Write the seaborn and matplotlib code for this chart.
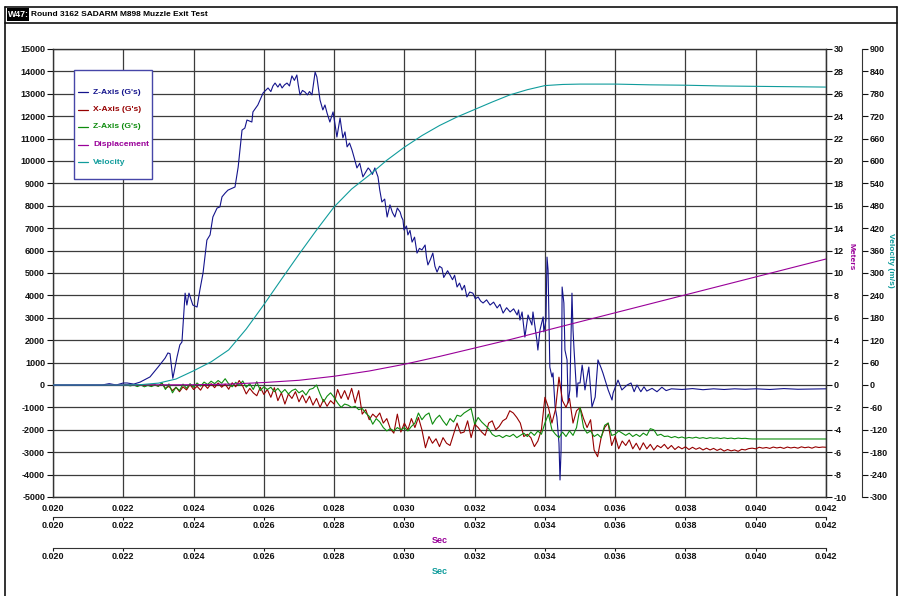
import matplotlib
matplotlib.use("Agg")
import matplotlib.pyplot as plt
from matplotlib.lines import Line2D
from matplotlib.patches import Rectangle
from matplotlib.ticker import FormatStrFormatter, MultipleLocator
import seaborn as sns

# ---------------- recorded channels ----------------
# Z-axis accelerometer (G's), irregular sample times (s)
z_time = [0.0200, 0.0214, 0.0216, 0.0218, 0.0220, 0.02211, 0.0223, 0.02248, 0.02276, 0.02299,
          0.02319, 0.02327, 0.02333, 0.02341, 0.02344, 0.02353, 0.02361, 0.02367, 0.02376, 0.02381,
          0.02387, 0.02398, 0.02410, 0.02418, 0.02427, 0.02438, 0.02447, 0.02455, 0.02467, 0.02475,
          0.02481, 0.02490, 0.02498, 0.02518, 0.02527, 0.02538, 0.02546, 0.02552, 0.02566, 0.02569,
          0.02583, 0.02598, 0.02605, 0.02612, 0.02620, 0.02626, 0.02632, 0.02640, 0.02646, 0.02652,
          0.02659, 0.02666, 0.02673, 0.02680, 0.02687, 0.02694, 0.02698, 0.02703, 0.02710, 0.02717,
          0.02724, 0.02730, 0.02737, 0.02742, 0.02746, 0.02751, 0.02760, 0.02768, 0.02774, 0.02780,
          0.02788, 0.02797, 0.02803, 0.02808, 0.02817, 0.02825, 0.02831, 0.02837, 0.02844, 0.02851,
          0.02858, 0.02865, 0.02873, 0.02882, 0.02890, 0.02897, 0.02902, 0.02909, 0.02916, 0.02925,
          0.02930, 0.02936, 0.02944, 0.02951, 0.02959, 0.02966, 0.02973, 0.02980, 0.02988, 0.02992,
          0.02996, 0.02999, 0.03006, 0.03010, 0.03016, 0.03022, 0.03029, 0.03036, 0.03043, 0.03050,
          0.03059, 0.03063, 0.03067, 0.03074, 0.03081, 0.03087, 0.03093, 0.03100, 0.03107, 0.03112,
          0.03116, 0.03123, 0.03130, 0.03137, 0.03143, 0.03150, 0.03157, 0.03164, 0.03171, 0.03178,
          0.03186, 0.03195, 0.03202, 0.03210, 0.03217, 0.03224, 0.03234, 0.03244, 0.03254, 0.03264,
          0.03272, 0.03281, 0.03291, 0.03301, 0.03311, 0.03321, 0.03325, 0.03329, 0.03335, 0.03343,
          0.03352, 0.03363, 0.03366, 0.03377, 0.03380, 0.03386, 0.03395, 0.03397, 0.03403, 0.03406,
          0.03409, 0.03414, 0.03420, 0.03423, 0.03429, 0.03434, 0.03440, 0.03443, 0.03446, 0.03449,
          0.03454, 0.03457, 0.03463, 0.03466, 0.03471, 0.03477, 0.03480, 0.03483, 0.03491, 0.03494,
          0.03500, 0.03506, 0.03508, 0.03514, 0.03520, 0.03525, 0.03534, 0.03543, 0.03551, 0.03560,
          0.03565, 0.03580, 0.03591, 0.03594, 0.03605, 0.03608, 0.03619, 0.03634, 0.03645, 0.03654,
          0.03662, 0.03673, 0.03682, 0.03690, 0.03705, 0.03719, 0.03733, 0.03745, 0.03760, 0.03790,
          0.03820, 0.03850, 0.03880, 0.03910, 0.03940, 0.03970, 0.04000, 0.04040, 0.04080, 0.04120,
          0.04200]
z_gs = [0, 0, 60, 0, 90, 90, 40, 130, 360, 800,
        1200, 1430, 1400, 300, 530, 1250, 1790, 1920, 4100, 3570,
        4100, 3570, 3480, 4240, 5000, 6470, 6700, 7500, 7900, 7950,
        8400, 8570, 8700, 8840, 9730, 11380, 11470, 11830, 11740, 12190,
        12500, 13040, 13150, 13260, 13100, 13350, 13480, 13300, 13450, 13260,
        13400, 13480, 13350, 13800, 13600, 13840, 13400, 12950, 13150, 13080,
        12950, 13100, 12950, 13500, 13970, 13750, 12720, 12280, 12500, 12140,
        11740, 12190, 11600, 11070, 11920, 11030, 11300, 10630, 10800, 10490,
        10100, 9690, 9900, 9290, 9500, 9690, 9600, 9400, 9690, 9290,
        8700, 8170, 8300, 7500, 8040, 7700, 7500, 7900, 7720, 7500,
        7370, 6920, 7100, 6700, 6900, 6380, 6600, 5890, 6100, 6030,
        6250, 5700, 5360, 5600, 5890, 5300, 5040, 5300, 5220, 4800,
        4910, 5100, 4910, 4700, 4900, 4375, 4550, 4240, 4450, 3930,
        4150, 4100, 3850, 3930, 3750, 3660, 3800, 3570, 3700, 3440,
        3600, 3210, 3450, 3260, 3400, 3125, 3350, 2900, 3260, 2140,
        3125, 2680, 3260, 2010, 1560, 2460, 3040, 2370, 2900, 5710,
        5130, 800, 360, 540, -980, -1430, -2590, -4240, -2900, 4375,
        3660, 1560, 1120, -800, -220, 4100, 2460, 1560, -540, 90,
        90, 890, 670, -220, 360, 800, -980, -540, 1120, 760,
        540, -220, -670, -360, 90, 220, -220, 0, 90, -300,
        0, -300, -80, -270, -150, -300, -100, -250, -170, -200,
        -160, -210, -170, -200, -170, -190, -170, -200, -160, -190,
        -170]

# X-axis and second Z-axis channels: fixed-rate record starting at 0.0220 s
chan_start = 0.0220
chan_step = 0.0001
x_gs = [0, 0, 0, 0, 0, 0, 0, 0, 0, 0,
        -50, 80, -150, -60, -250, -100, -300, -80, -220, 20,
        -200, -60, -230, 30, -150, 60, -120, 90, -100, 40,
        -190, 100, -80, 200, -50, -400, -150, -350, -480, -100,
        -420, -200, -550, -120, -700, -350, -850, -400, -600, -300,
        -750, -450, -800, -500, -900, -600, -1000, -650, -950, -700,
        -850, -200, -600, -250, -650, -150, -800, -250, -1300, -1100,
        -1550, -1300, -1450, -1250, -1700, -1500, -1950, -2150, -1300, -2100,
        -1700, -2000, -1500, -1900, -1450, -2000, -2800, -2300, -2600, -2400,
        -2750, -2350, -2600, -2700, -2200, -1700, -2150, -2100, -1600, -2350,
        -1750, -1900, -2100, -2250, -1700, -1600, -2000, -1850, -1600, -1500,
        -1150, -1250, -1450, -1700, -2300, -2200, -2350, -2750, -2500, -2000,
        -550, -1000, -1700, -1100, 350, -700, -1000, -600, -1700, -1150,
        -1000, -1500, -1900, -1550, -2900, -3200, -2350, -1900, -1700, -2700,
        -2300, -2850, -2500, -2700, -2450, -2850, -2600, -2900, -2580, -2850,
        -2650, -2900, -2700, -2800, -2650, -2850, -2700, -2880, -2750, -2850,
        -2760, -2880, -2780, -2870, -2800, -2900, -2820, -2900, -2830, -2920,
        -2850, -2950, -2880, -2940, -2900, -2960, -2870, -2900, -2840, -2820,
        -2850, -2780, -2820, -2790, -2830, -2770, -2810, -2780, -2830, -2770,
        -2810, -2780, -2820, -2760, -2800, -2770, -2820, -2760, -2790, -2770, -2780]
z2_gs = [0, 0, -40, 0, -70, 0, -80, -20, -70, 0,
         -60, 100, -200, 50, -350, -100, -250, 40, -150, 60,
         -100, 90, -50, 130, 20, 170, 60, 200, 80, 280,
         50, -80, 120, -20, 180, -100, 60, -200, 150, -250,
         -80, -200, -100, -300, -150, -350, -200, -400, -250, -180,
         -350, -250, -450, -200, -150, 0, -400, -750, -500, -350,
         -550, -800, -1000, -850, -900, -1000, -950, -1100, -1050, -1250,
         -1400, -1750, -1500, -1650, -1900, -2050, -1950, -2050, -1900, -2000,
         -1900, -2050, -1850, -1700, -1250, -1550, -1350, -1250, -1750, -1500,
         -1350, -1600, -1800, -1500, -1650, -1350, -1400, -1250, -1150, -1050,
         -1750, -1450, -1650, -1800, -1950, -2200, -2300, -2250, -2350, -2250,
         -2300, -2200, -2350, -2250, -2150, -2300, -2100, -2250, -2050, -2200,
         -1700, -1300, -2000, -2200, -2350, -2100, -2300, -2050, -2250, -1900,
         -1000, -1900, -2150, -2050, -2300, -2200, -2350, -1800, -1700, -2250,
         -2200, -2050, -2150, -2250, -2150, -2300, -2200, -2300, -2150, -2250,
         -1950, -2000, -2250, -2200, -2300, -2280, -2350, -2300, -2360, -2320,
         -2380, -2340, -2370, -2330, -2380, -2350, -2390, -2350, -2380, -2360,
         -2390, -2360, -2390, -2370, -2400, -2370, -2390, -2380, -2400, -2410,
         -2410, -2410, -2410, -2410, -2410, -2410, -2410, -2410, -2410, -2410,
         -2410, -2410, -2410, -2410, -2410, -2410, -2410, -2410, -2410, -2410, -2410]

# projectile displacement (m)
disp_time = [0.0200, 0.0240, 0.0250, 0.0260, 0.0270, 0.0280, 0.0290, 0.0300, 0.0310, 0.0320,
             0.0330, 0.0340, 0.0350, 0.0360, 0.0370, 0.0380, 0.0390, 0.0400, 0.0410, 0.0420]
disp_m = [0, 0.02, 0.08, 0.22, 0.42, 0.78, 1.25, 1.85, 2.55, 3.30,
          4.05, 4.85, 5.65, 6.45, 7.25, 8.05, 8.85, 9.65, 10.45, 11.25]

# projectile velocity (m/s)
vel_time = [0.0200, 0.0220, 0.0225, 0.0230, 0.0235, 0.0240, 0.0245, 0.0250, 0.0255, 0.0260,
            0.0265, 0.0270, 0.0275, 0.0280, 0.0285, 0.0290, 0.0295, 0.0300, 0.0305, 0.0310,
            0.0315, 0.0320, 0.0325, 0.0330, 0.0335, 0.0340, 0.0345, 0.0350, 0.0360, 0.0370,
            0.0380, 0.0390, 0.0400, 0.0410, 0.0420]
vel_ms = [0, 0, 1, 5, 16, 38, 62, 94, 150, 215,
          283, 350, 415, 477, 525, 562, 602, 637, 668, 695,
          718, 738, 758, 777, 791, 802, 805, 806, 806, 804,
          803, 801, 800, 799, 798]

legend_labels = ["Z-Axis (G's)", "X-Axis (G's)", "Z-Axis (G's)", "Displacement", "Velocity"]
sec_ticks = [0.020, 0.022, 0.024, 0.026, 0.028, 0.030, 0.032, 0.034, 0.036, 0.038, 0.040, 0.042]

# ---------------- styling ----------------
NAVY = "#14148c"
DRED = "#960000"
GREEN = "#0e8c0e"
PURPLE = "#990099"
TEAL = "#109c9c"
GRID = "#3c3c3c"

sns.set_style("white")
plt.rcParams["font.family"] = ["Liberation Sans", "DejaVu Sans"]
plt.rcParams["font.weight"] = "bold"
plt.rcParams["axes.unicode_minus"] = False

W, H = 905, 596
fig = plt.figure(figsize=(W / 100, H / 100), dpi=100)


def fx(px):
    return px / W


def fy(py):
    return 1 - py / H


L, R, T, B = 53, 826, 49, 497
ax = fig.add_axes([fx(L), fy(B), (R - L) / W, (B - T) / H])
ax_m = ax.twinx()
ax_v = ax.twinx()

chan_time = [chan_start + i * chan_step for i in range(len(x_gs))]

line_kw = dict(estimator=None, sort=False, legend=False, linewidth=0.8)
sns.lineplot(x=z_time, y=z_gs, ax=ax, color=NAVY, **line_kw)
sns.lineplot(x=chan_time, y=x_gs, ax=ax, color=DRED, **line_kw)
sns.lineplot(x=chan_time, y=z2_gs, ax=ax, color=GREEN, **line_kw)
sns.lineplot(x=disp_time, y=disp_m, ax=ax_m, color=PURPLE, **line_kw)
sns.lineplot(x=vel_time, y=vel_ms, ax=ax_v, color=TEAL, **line_kw)

ax.set_xlim(0.020, 0.042)
ax.set_ylim(-5000, 15000)
ax_m.set_ylim(-10, 30)
ax_v.set_ylim(-300, 900)

ax.xaxis.set_major_locator(MultipleLocator(0.002))
ax.yaxis.set_major_locator(MultipleLocator(1000))
ax_m.yaxis.set_major_locator(MultipleLocator(2))
ax_v.yaxis.set_major_locator(MultipleLocator(60))
ax.xaxis.set_major_formatter(FormatStrFormatter("%.3f"))
ax.yaxis.set_major_formatter(FormatStrFormatter("%d"))
ax_m.yaxis.set_major_formatter(FormatStrFormatter("%d"))
ax_v.yaxis.set_major_formatter(FormatStrFormatter("%d"))

ax.set_axisbelow(True)
ax.grid(True, color=GRID, linewidth=0.9)
ax.set_xlabel("")
ax.set_ylabel("")

for s in ax.spines.values():
    s.set_color("#333333")
    s.set_linewidth(1.0)
for name in ("top", "bottom", "left"):
    ax_m.spines[name].set_visible(False)
    ax_v.spines[name].set_visible(False)
ax_m.spines["right"].set_color("#333333")
ax_v.spines["right"].set_position(("outward", 36 * 0.72))
ax_v.spines["right"].set_color("#333333")

tick_font = 6.5
ax.tick_params(axis="y", direction="out", length=4.5, width=0.8, pad=1.2,
               labelsize=tick_font, colors="#111111")
ax.tick_params(axis="x", direction="out", length=2.5, width=0.8, pad=2.6,
               labelsize=tick_font, colors="#111111")
ax_m.tick_params(axis="y", direction="out", length=4.0, width=0.8, pad=1.5,
                 labelsize=tick_font, colors="#111111")
ax_v.tick_params(axis="y", direction="out", length=4.0, width=0.8, pad=1.5,
                 labelsize=tick_font, colors="#111111")

ax_m.set_ylabel("Meters", color=PURPLE, fontsize=6.0, fontweight="bold", rotation=270,
                va="center")
ax_m.yaxis.set_label_coords((851 - L) / (R - L), (B - 257) / (B - T))
ax_v.set_ylabel("Velocity (m/s)", color=TEAL, fontsize=6.0, fontweight="bold", rotation=270,
                va="center")
ax_v.yaxis.set_label_coords((890 - L) / (R - L), (B - 260) / (B - T))

# extra time axes for the displacement and velocity channels
for off, col in ((20, PURPLE), (51, TEAL)):
    sec = ax.secondary_xaxis(-off / (B - T))
    sec.set_xticks(sec_ticks)
    sec.xaxis.set_major_formatter(FormatStrFormatter("%.3f"))
    sec.tick_params(axis="x", direction="out", length=2.0, width=0.8, pad=0.8,
                    labelsize=tick_font, colors="#111111")
    sec.spines["bottom"].set_color("#333333")
    sec.set_xlabel("Sec", color=col, fontsize=6.5, fontweight="bold", labelpad=4.5)

# legend box
fig.add_artist(Rectangle((fx(74), fy(179)), (152 - 74) / W, (179 - 70) / H,
                         transform=fig.transFigure, facecolor="white",
                         edgecolor="#4646a8", linewidth=1.0, zorder=5))
for lab, col, py in zip(legend_labels, [NAVY, DRED, GREEN, PURPLE, TEAL],
                        [92, 109.5, 127, 144.5, 162]):
    fig.add_artist(Line2D([fx(78), fx(88)], [fy(py), fy(py)], color=col,
                          linewidth=0.9, zorder=6))
    fig.text(fx(93), fy(py), lab, color=col, fontsize=6.1, fontweight="bold",
             va="center", ha="left", zorder=7)

# window frame and title bar
frame_kw = dict(color="#111111", linewidth=1.2, zorder=8)
fig.add_artist(Line2D([fx(5), fx(5)], [fy(7), 0], **frame_kw))
fig.add_artist(Line2D([fx(5), fx(897)], [fy(7), fy(7)], **frame_kw))
fig.add_artist(Line2D([fx(897), fx(897)], [fy(7), 0], **frame_kw))
fig.add_artist(Line2D([fx(5), fx(897)], [fy(23), fy(23)], **frame_kw))
fig.add_artist(Rectangle((fx(7), fy(21)), 22 / W, 13 / H, transform=fig.transFigure,
                         facecolor="black", edgecolor="none", zorder=8))
fig.text(fx(8), fy(14.5), "W47:", color="white", fontsize=6.3, fontweight="bold",
         va="center", ha="left", zorder=9)
fig.text(fx(31), fy(14.5), "Round 3162 SADARM M898 Muzzle Exit Test", color="black",
         fontsize=6.0, fontweight="bold", va="center", ha="left", zorder=9)

fig.savefig("out.png", dpi=100)
